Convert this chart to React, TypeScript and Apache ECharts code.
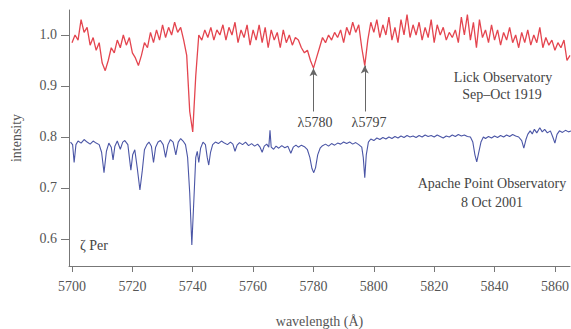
import React, { useEffect, useRef } from "react";
import * as echarts from "echarts";

const xTicks = [5700, 5720, 5740, 5760, 5780, 5800, 5820, 5840, 5860];
const yTicks = [0.6, 0.7, 0.8, 0.9, 1.0];

const lickStart = 5700;
const lickIntensity = [
  0.985, 1.0, 0.99, 1.03, 1.005, 1.015, 0.98, 0.995, 0.97, 0.985,
  0.945, 0.93, 0.95, 0.975, 0.965, 0.99, 0.975, 1.0, 0.98, 0.995,
  0.965, 0.955, 0.94, 0.96, 0.985, 0.975, 1.005, 0.985, 1.01, 0.99,
  1.02, 0.995, 1.015, 1.0, 1.025, 1.005, 1.015, 0.99, 0.96, 0.85,
  0.81, 0.92, 1.0, 0.99, 1.01, 0.995, 1.015, 0.99, 1.01, 1.0,
  1.02, 0.99, 1.015, 1.0, 1.025, 0.985, 1.01, 0.995, 1.02, 0.98,
  1.01, 0.99, 1.02, 0.985, 1.015, 0.975, 1.01, 0.99, 1.005, 0.975,
  1.01, 0.985, 1.0, 0.98, 0.995, 0.99, 0.975, 0.965, 0.97, 0.95,
  0.935, 0.955, 0.975, 0.995, 0.985, 1.0, 0.99, 1.005, 0.995, 1.01,
  0.985, 1.015, 1.0, 1.025, 1.005, 1.02, 0.975, 0.94, 0.99, 1.025,
  1.005, 1.03, 0.995, 1.02, 1.0, 1.035, 0.99, 1.015, 0.985, 1.03,
  1.0, 1.04, 0.995, 1.02, 1.0, 1.025, 0.99, 1.015, 0.995, 1.03,
  0.985, 1.02, 1.0, 1.015, 0.99, 1.005, 0.995, 1.01, 0.985, 1.035,
  1.0, 1.04, 0.99, 1.025, 0.975, 1.03, 0.995, 1.01, 0.985, 1.02,
  0.99, 1.01, 0.98, 1.005, 0.99, 1.015, 0.985, 1.0, 0.975, 1.005,
  0.985, 1.01, 0.98, 1.0, 0.985, 1.015, 0.975, 0.995, 0.98, 0.99,
  0.97, 0.985, 0.975, 0.99, 0.95, 0.96,
];

const apacheSpectrum: [number, number][] = [
  [5699.5, 0.79], [5700.2, 0.785], [5700.7, 0.75], [5701.3, 0.785], [5702, 0.792], [5703, 0.788],
  [5704, 0.795], [5705, 0.79], [5706, 0.786], [5707, 0.792], [5708, 0.788], [5709, 0.785],
  [5709.8, 0.77], [5710.6, 0.73], [5711.4, 0.772], [5712.2, 0.788], [5713, 0.78], [5713.6, 0.755],
  [5714.2, 0.782], [5715, 0.792], [5716, 0.776], [5716.8, 0.79], [5717.5, 0.793], [5718.5, 0.785],
  [5719, 0.76], [5719.5, 0.735], [5720.1, 0.765], [5720.8, 0.775], [5721.6, 0.74], [5722.5, 0.696],
  [5723.3, 0.735], [5724, 0.775], [5724.8, 0.785], [5725.5, 0.79], [5726.3, 0.782], [5727, 0.75],
  [5727.7, 0.78], [5728.5, 0.79], [5729.3, 0.793], [5730.2, 0.785], [5731, 0.76], [5731.8, 0.785],
  [5732.6, 0.795], [5733.5, 0.79], [5734.4, 0.765], [5735.2, 0.79], [5736, 0.797], [5736.8, 0.792],
  [5737.6, 0.785], [5738.3, 0.76], [5739, 0.69], [5739.7, 0.588], [5740.4, 0.68], [5741, 0.76],
  [5741.5, 0.772], [5742, 0.75], [5742.6, 0.778], [5743.4, 0.79], [5744.2, 0.785], [5744.8, 0.76],
  [5745.3, 0.745], [5745.9, 0.77], [5746.6, 0.785], [5747.5, 0.79], [5748.5, 0.787], [5749.5, 0.792],
  [5750.5, 0.788], [5751.5, 0.785], [5752.5, 0.79], [5753.3, 0.786], [5754, 0.772], [5754.7, 0.784],
  [5755.5, 0.789], [5756.5, 0.785], [5757.5, 0.79], [5758.5, 0.783], [5759.5, 0.787], [5760.5, 0.782],
  [5761.5, 0.786], [5762.3, 0.78], [5763, 0.77], [5763.7, 0.782], [5764.5, 0.786], [5765.2, 0.78],
  [5765.6, 0.813], [5766, 0.78], [5766.8, 0.776], [5767.6, 0.782], [5768.5, 0.778], [5769.5, 0.783],
  [5770.5, 0.779], [5771.5, 0.782], [5772.5, 0.768], [5773.3, 0.78], [5774.2, 0.784], [5775, 0.78],
  [5776, 0.784], [5777, 0.781], [5778, 0.775], [5778.8, 0.76], [5779.5, 0.738], [5780.1, 0.73],
  [5780.7, 0.74], [5781.4, 0.765], [5782.2, 0.778], [5783, 0.783], [5784, 0.786], [5785, 0.782],
  [5786, 0.787], [5787, 0.784], [5788, 0.788], [5789, 0.786], [5790, 0.79], [5791, 0.787],
  [5792, 0.79], [5793, 0.786], [5794, 0.789], [5795, 0.785], [5796, 0.78], [5796.5, 0.76],
  [5797, 0.72], [5797.5, 0.765], [5798.2, 0.79], [5799, 0.796], [5800, 0.793], [5801, 0.798],
  [5802, 0.795], [5803, 0.799], [5804, 0.796], [5805, 0.8], [5806, 0.797], [5807, 0.801],
  [5808, 0.798], [5809, 0.802], [5810, 0.799], [5811, 0.803], [5812, 0.8], [5813, 0.802],
  [5814, 0.799], [5815, 0.803], [5816, 0.8], [5817, 0.804], [5818, 0.801], [5819, 0.803],
  [5820, 0.8], [5821, 0.804], [5822, 0.801], [5823, 0.798], [5824, 0.802], [5825, 0.8],
  [5826, 0.804], [5827, 0.801], [5828, 0.805], [5829, 0.802], [5830, 0.804], [5831, 0.801],
  [5832, 0.8], [5832.8, 0.79], [5833.5, 0.765], [5834.1, 0.751], [5834.7, 0.768], [5835.5, 0.79],
  [5836.3, 0.8], [5837, 0.797], [5838, 0.801], [5839, 0.798], [5840, 0.802], [5841, 0.799],
  [5842, 0.803], [5843, 0.8], [5844, 0.804], [5845, 0.801], [5846, 0.805], [5847, 0.802],
  [5848, 0.8], [5849, 0.793], [5849.7, 0.778], [5850.4, 0.795], [5851, 0.805], [5851.8, 0.812],
  [5852.5, 0.806], [5853.2, 0.815], [5854, 0.808], [5855, 0.818], [5855.8, 0.81], [5856.6, 0.815],
  [5857.5, 0.808], [5858.5, 0.812], [5859.3, 0.8], [5860, 0.788], [5860.7, 0.805], [5861.5, 0.812],
  [5862.5, 0.809], [5863.5, 0.813], [5864.5, 0.81], [5865.5, 0.812],
];

const arrowLines = [
  { wave: 5780, from: 0.85, to: 0.935 },
  { wave: 5797, from: 0.85, to: 0.94 },
];

const FONT = "'Liberation Serif', 'DejaVu Serif', serif";

export default function App() {
  const ref = useRef<HTMLDivElement>(null);
  useEffect(() => {
    if (!ref.current) return;
    const chart = echarts.init(ref.current, undefined, { renderer: "svg" });
    const lickData = lickIntensity.map((v, i) => [lickStart + i, v]);
    const textEl = (text: string, x: number, y: number, size = 14, align = "center") => ({
      type: "text",
      x,
      y,
      style: {
        text,
        fill: "#444",
        font: `${size}px ${FONT}`,
        textAlign: align,
        textVerticalAlign: "middle",
      },
    });
    chart.setOption({
      animation: false,
      backgroundColor: "#fff",
      grid: { left: 69, right: 1, top: 10, bottom: 63, containLabel: false, outerBoundsMode: "none" },
      xAxis: {
        type: "value",
        min: 5699,
        max: 5865,
        name: "wavelength (Å)",
        nameLocation: "middle",
        nameGap: 48,
        nameTextStyle: { fontFamily: FONT, fontSize: 14, color: "#555" },
        axisLine: { show: true, onZero: false, lineStyle: { color: "#777", width: 1 } },
        axisTick: { show: true, inside: false, length: 6, customValues: xTicks, lineStyle: { color: "#777" } },
        axisLabel: {
          customValues: xTicks,
          fontFamily: FONT,
          fontSize: 14,
          color: "#555",
          margin: 13,
          formatter: (v: number) => String(Math.round(v)),
        },
        splitLine: { show: false },
      },
      yAxis: {
        type: "value",
        min: 0.547,
        max: 1.049,
        name: "intensity",
        nameLocation: "middle",
        nameGap: 46,
        nameTextStyle: { fontFamily: FONT, fontSize: 14, color: "#555" },
        axisLine: { show: true, onZero: false, lineStyle: { color: "#777", width: 1 } },
        axisTick: { show: true, inside: false, length: 8, customValues: yTicks, lineStyle: { color: "#777" } },
        axisLabel: {
          customValues: yTicks,
          fontFamily: FONT,
          fontSize: 14,
          color: "#555",
          margin: 12,
          formatter: (v: number) => v.toFixed(1),
        },
        splitLine: { show: false },
      },
      series: [
        {
          type: "line",
          name: "Lick Observatory",
          data: lickData,
          showSymbol: false,
          symbol: "none",
          lineStyle: { color: "#e4454f", width: 1.3 },
          markLine: {
            silent: true,
            symbol: ["none", "arrow"],
            symbolSize: [6, 8],
            label: { show: false },
            lineStyle: { color: "#666", width: 1, type: "solid" },
            data: arrowLines.map((a) => [
              { coord: [a.wave, a.from] },
              { coord: [a.wave, a.to] },
            ]),
          },
        },
        {
          type: "line",
          name: "Apache Point Observatory",
          data: apacheSpectrum,
          showSymbol: false,
          symbol: "none",
          lineStyle: { color: "#4b56a6", width: 1.1 },
        },
      ],
      graphic: [
        textEl("Lick Observatory", 503, 77),
        textEl("Sep–Oct 1919", 502, 94),
        textEl("λ5780", 315, 122),
        textEl("λ5797", 369, 122),
        textEl("Apache Point Observatory", 492, 183),
        textEl("8 Oct 2001", 492, 202),
        textEl("ζ Per", 80, 245, 14, "left"),
      ],
    });
    return () => chart.dispose();
  }, []);
  return <div ref={ref} style={{ width: 571, height: 329, position: "absolute", left: 0, top: 0 }} />;
}
